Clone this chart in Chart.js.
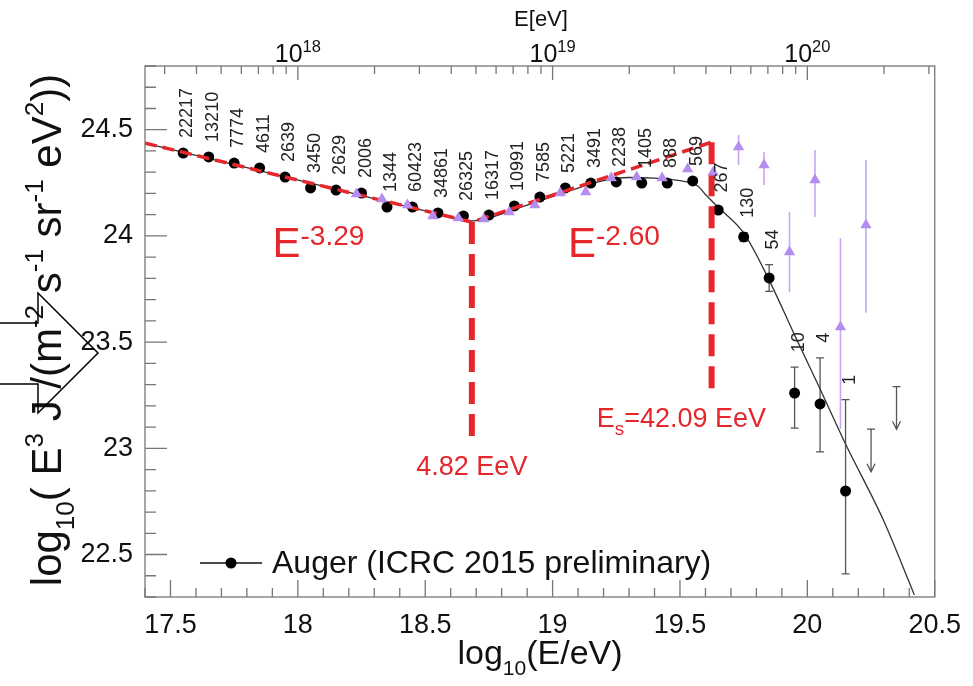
<!DOCTYPE html>
<html>
<head>
<meta charset="utf-8">
<title>UHECR spectrum</title>
<script src="https://cdn.jsdelivr.net/npm/chart.js@4.4.1/dist/chart.umd.min.js"></script>
<style>
  html, body { margin: 0; padding: 0; background: #fff; }
  #wrap { position: relative; width: 973px; height: 686px; }
  #arrow { position: absolute; left: 0; top: 0; pointer-events: none; }
</style>
</head>
<body>
<div id="wrap">
  <canvas id="spectrum" width="973" height="686"></canvas>
  <svg id="arrow" width="973" height="686">
    <polyline points="0,323 38,323 38,293 98,353 38,413 38,384 0,384" fill="none" stroke="#000" stroke-width="1.5"/>
  </svg>
</div>
<script>
// Auger SD spectrum: bin centres, log10(E^3 J) and event counts
const augerLogE = [17.55, 17.65, 17.75, 17.85, 17.95, 18.05, 18.15, 18.25, 18.35, 18.45,
  18.55, 18.65, 18.75, 18.85, 18.95, 19.05, 19.15, 19.25, 19.35, 19.45,
  19.55, 19.65, 19.75, 19.85, 19.95, 20.05, 20.15];
const augerFlux = [24.390, 24.372, 24.343, 24.320, 24.277, 24.226, 24.216, 24.202, 24.136, 24.136,
  24.108, 24.094, 24.098, 24.141, 24.183, 24.226, 24.249, 24.254, 24.249, 24.249,
  24.259, 24.122, 23.995, 23.802, 23.260, 23.209, 22.799];
const augerErrUp = [0, 0, 0, 0, 0, 0, 0, 0, 0, 0, 0, 0, 0, 0, 0, 0, 0, 0, 0, 0,
  0, 0.012, 0.02, 0.063, 0.122, 0.217, 0.43];
const augerErrLow = [0, 0, 0, 0, 0, 0, 0, 0, 0, 0, 0, 0, 0, 0, 0, 0, 0, 0, 0, 0,
  0, 0.012, 0.02, 0.063, 0.165, 0.226, 0.39];
const augerCounts = ['22217', '13210', '7774', '4611', '2639', '3450', '2629', '2006', '1344', '60423',
  '34861', '26325', '16317', '10991', '7585', '5221', '3491', '2238', '1405', '888',
  '569', '267', '130', '54', '10', '4', '1'];

// Auger upper limits (no events)
const limitLogE = [20.25, 20.35];
const limitFlux = [23.09, 23.29];
const limitDrop = 0.2;

// Telescope Array points
const taLogE = [18.23, 18.33, 18.43, 18.53, 18.63, 18.73, 18.83, 18.93, 19.03, 19.13,
  19.23, 19.33, 19.43, 19.53, 19.63, 19.73, 19.83, 19.93, 20.03, 20.13, 20.23];
const taFlux = [24.197, 24.174, 24.146, 24.094, 24.084, 24.080, 24.113, 24.146, 24.202, 24.207,
  24.273, 24.277, 24.273, 24.315, 24.300, 24.419, 24.334, 23.924, 24.263, 23.571, 24.051];
const taErrUp = [0, 0, 0, 0, 0, 0, 0, 0, 0, 0, 0, 0, 0, 0, 0,
  0.056, 0.061, 0.188, 0.141, 0.419, 0.307];
const taErrLow = [0, 0, 0, 0, 0, 0, 0, 0, 0, 0, 0, 0, 0, 0, 0,
  0.085, 0.094, 0.188, 0.174, 0.48, 0.413];

// Auger fit function
const fitLogE = [17.40, 17.80, 18.20, 18.50, 18.62, 18.68, 18.75, 18.90, 19.05, 19.20,
  19.30, 19.40, 19.50, 19.57, 19.60, 19.65, 19.75, 19.85, 19.95, 20.05,
  20.15, 20.30, 20.42];
const fitFlux = [24.437, 24.321, 24.205, 24.118, 24.082, 24.070, 24.085, 24.145, 24.205, 24.260,
  24.275, 24.272, 24.260, 24.235, 24.195, 24.135, 24.014, 23.792, 23.533, 23.279,
  23.020, 22.658, 22.310];

// Broken power law: ankle and suppression energies (EeV), spectral indices
const ankleEeV = 4.82;
const suppressionEeV = 42.09;
const gammaBelow = 3.29;
const gammaAbove = 2.60;
const ankleFlux = 24.065;
const markerBottom = [23.04, 23.24];   // lower ends of the dashed markers

// Axes
const xMin = 17.4, xMax = 20.5, yMin = 22.3, yMax = 24.8;
const xTickValues = [17.5, 18, 18.5, 19, 19.5, 20, 20.5];
const xTickLabels = ['17.5', '18', '18.5', '19', '19.5', '20', '20.5'];
const yTickValues = [22.5, 23, 23.5, 24, 24.5];
const yTickLabels = ['22.5', '23', '23.5', '24', '24.5'];
const topDecades = [18, 19, 20];
const topDecadeLabels = ['18', '19', '20'];

const FONT = '"Liberation Sans", Arial, Helvetica, sans-serif';
const RED = '#e5262b';
const TA_COLOR = '#b58cf0';
const TA_BAR = '#c7a6f3';

const xAnkle = 18 + Math.log10(ankleEeV);
const xSupp = 18 + Math.log10(suppressionEeV);
const brokenLaw = [
  { x: xMin, y: ankleFlux + (3 - gammaBelow) * (xMin - xAnkle) },
  { x: xAnkle, y: ankleFlux },
  { x: xSupp, y: ankleFlux + (3 - gammaAbove) * (xSupp - xAnkle) }
];

function pairs(xs, ys) {
  return xs.map((v, i) => ({ x: v, y: ys[i] }));
}

// text with super/subscripts; parts are [text, shift] with shift 1 = sup, -1 = sub
function richText(ctx, parts, x, y, o) {
  const size = o.size;
  const small = size * (o.scale || 0.62);
  const widths = parts.map(([t, s]) => {
    ctx.font = (s ? small : size) + 'px ' + FONT;
    return ctx.measureText(t).width;
  });
  const total = widths.reduce((a, b) => a + b, 0);
  let cx = o.align === 'center' ? x - total / 2 : x;
  ctx.fillStyle = o.color || '#111';
  ctx.textAlign = 'left';
  ctx.textBaseline = 'alphabetic';
  parts.forEach(([t, s], i) => {
    ctx.font = (s ? small : size) + 'px ' + FONT;
    const dy = s > 0 ? -size * (o.up || 0.4) : s < 0 ? size * (o.down || 0.25) : 0;
    ctx.fillText(t, cx, y + dy);
    cx += widths[i];
  });
}

// error bars and upper-limit arrows, under the markers
const errorBars = {
  id: 'errorBars',
  beforeDatasetsDraw(chart) {
    const { ctx, scales: { x, y } } = chart;
    ctx.save();
    ctx.strokeStyle = TA_BAR;
    ctx.lineWidth = 1.6;
    taLogE.forEach((e, i) => {
      if (!taErrUp[i] && !taErrLow[i]) return;
      const px = x.getPixelForValue(e);
      ctx.beginPath();
      ctx.moveTo(px, y.getPixelForValue(taFlux[i] + taErrUp[i]));
      ctx.lineTo(px, y.getPixelForValue(taFlux[i] - taErrLow[i]));
      ctx.stroke();
    });

    ctx.strokeStyle = '#555';
    ctx.lineWidth = 1.3;
    augerLogE.forEach((e, i) => {
      if (!augerErrUp[i] && !augerErrLow[i]) return;
      const px = x.getPixelForValue(e);
      const top = y.getPixelForValue(augerFlux[i] + augerErrUp[i]);
      const bot = y.getPixelForValue(augerFlux[i] - augerErrLow[i]);
      ctx.beginPath();
      ctx.moveTo(px, top); ctx.lineTo(px, bot);
      ctx.moveTo(px - 4, top); ctx.lineTo(px + 4, top);
      ctx.moveTo(px - 4, bot); ctx.lineTo(px + 4, bot);
      ctx.stroke();
    });

    limitLogE.forEach((e, i) => {
      const px = x.getPixelForValue(e);
      const top = y.getPixelForValue(limitFlux[i]);
      const tip = y.getPixelForValue(limitFlux[i] - limitDrop);
      ctx.beginPath();
      ctx.moveTo(px - 4, top); ctx.lineTo(px + 4, top);
      ctx.moveTo(px, top); ctx.lineTo(px, tip);
      ctx.moveTo(px - 4, tip - 8); ctx.lineTo(px, tip); ctx.lineTo(px + 4, tip - 8);
      ctx.stroke();
    });
    ctx.restore();
  }
};

// event counts and the fit annotations
const annotations = {
  id: 'annotations',
  afterDatasetsDraw(chart) {
    const { ctx, scales: { x, y } } = chart;
    ctx.save();
    ctx.fillStyle = '#222';
    ctx.font = '18px ' + FONT;
    ctx.textAlign = 'left';
    ctx.textBaseline = 'middle';
    augerLogE.forEach((e, i) => {
      const px = x.getPixelForValue(e) + 4;
      const py = y.getPixelForValue(augerFlux[i] + augerErrUp[i]) - 15;
      ctx.save();
      ctx.translate(px, py);
      ctx.rotate(-Math.PI / 2);
      ctx.fillText(augerCounts[i], 0, 0);
      ctx.restore();
    });

    richText(ctx, [['E', 0], ['-3.29', 1]], x.getPixelForValue(17.9), y.getPixelForValue(23.90),
      { size: 42, scale: 0.67, up: 0.3, color: RED });
    richText(ctx, [['E', 0], ['-2.60', 1]], x.getPixelForValue(19.06), y.getPixelForValue(23.90),
      { size: 42, scale: 0.67, up: 0.3, color: RED });
    richText(ctx, [[ankleEeV.toFixed(2) + ' EeV', 0]], x.getPixelForValue(xAnkle), y.getPixelForValue(22.874),
      { size: 27, align: 'center', color: RED });
    richText(ctx, [['E', 0], ['s', -1], ['=' + suppressionEeV.toFixed(2) + ' EeV', 0]],
      x.getPixelForValue(19.173), y.getPixelForValue(23.10),
      { size: 27, scale: 0.7, down: 0.3, color: RED });
    ctx.restore();
  }
};

// ROOT-style frame with inward ticks, top energy axis, titles and legend
const frame = {
  id: 'frame',
  afterDraw(chart) {
    const { ctx, chartArea: a, scales: { x, y } } = chart;
    ctx.save();
    ctx.strokeStyle = '#777';
    ctx.lineWidth = 1.3;
    ctx.strokeRect(a.left, a.top, a.right - a.left, a.bottom - a.top);

    ctx.beginPath();
    for (let i = 0; i <= 31; i++) {
      const v = xMin + i * 0.1;
      const major = Math.abs(v * 2 - Math.round(v * 2)) < 1e-6;
      const px = x.getPixelForValue(v);
      ctx.moveTo(px, a.bottom);
      ctx.lineTo(px, a.bottom - (major ? 17 : 9));
    }
    for (let i = 0; i <= 25; i++) {
      const v = yMin + i * 0.1;
      const major = Math.abs(v * 2 - Math.round(v * 2)) < 1e-6;
      const py = y.getPixelForValue(v);
      ctx.moveTo(a.left, py);
      ctx.lineTo(a.left + (major ? 22 : 11), py);
    }
    [17, 18, 19, 20].forEach(d => {
      for (let k = 1; k <= 9; k++) {
        const v = d + Math.log10(k);
        if (v < xMin || v > xMax) continue;
        const px = x.getPixelForValue(v);
        ctx.moveTo(px, a.top);
        ctx.lineTo(px, a.top + (k === 1 ? 14 : 8));
      }
    });
    ctx.stroke();

    topDecades.forEach((d, i) => {
      richText(ctx, [['10', 0], [topDecadeLabels[i], 1]], x.getPixelForValue(d), 62,
        { size: 25, scale: 0.66, up: 0.42, align: 'center', color: '#111' });
    });
    richText(ctx, [['E[eV]', 0]], 541, 26, { size: 22, align: 'center', color: '#111' });

    richText(ctx, [['log', 0], ['10', -1], ['(E/eV)', 0]], 540, 664,
      { size: 34, scale: 0.62, down: 0.33, align: 'center', color: '#111' });

    ctx.save();
    ctx.translate(61, 330);
    ctx.rotate(-Math.PI / 2);
    richText(ctx, [['log', 0], ['10', -1], ['( E', 0], ['3', 1], [' J /(m', 0], ['-2', 1], [' s', 0],
      ['-1', 1], [' sr', 0], ['-1', 1], [' eV', 0], ['2', 1], ['))', 0]], 0, 0,
      { size: 42, scale: 0.62, up: 0.42, down: 0.3, align: 'center', color: '#111' });
    ctx.restore();

    // legend
    ctx.strokeStyle = '#111';
    ctx.lineWidth = 1.3;
    ctx.beginPath();
    ctx.moveTo(200, 563); ctx.lineTo(262, 563);
    ctx.stroke();
    ctx.fillStyle = '#000';
    ctx.beginPath();
    ctx.arc(231, 563, 5.5, 0, Math.PI * 2);
    ctx.fill();
    ctx.font = '32px ' + FONT;
    ctx.textBaseline = 'middle';
    ctx.textAlign = 'left';
    ctx.fillStyle = '#111';
    ctx.fillText('Auger (ICRC 2015 preliminary)', 272, 564);
    ctx.restore();
  }
};

new Chart(document.getElementById('spectrum'), {
  type: 'scatter',
  data: {
    datasets: [
      {
        label: 'TA',
        data: pairs(taLogE, taFlux),
        pointStyle: 'triangle',
        pointRadius: 6.5,
        backgroundColor: TA_COLOR,
        borderColor: TA_COLOR,
        borderWidth: 0,
        order: 0
      },
      {
        label: 'broken power law',
        data: brokenLaw,
        showLine: true,
        borderColor: RED,
        borderWidth: 3.5,
        borderDash: [12, 6],
        pointRadius: 0,
        order: 1
      },
      {
        label: 'ankle',
        data: [{ x: xAnkle, y: ankleFlux }, { x: xAnkle, y: markerBottom[0] }],
        showLine: true,
        borderColor: RED,
        borderWidth: 6,
        borderDash: [22, 10],
        pointRadius: 0,
        order: 1
      },
      {
        label: 'suppression',
        data: [{ x: xSupp, y: brokenLaw[2].y }, { x: xSupp, y: markerBottom[1] }],
        showLine: true,
        borderColor: RED,
        borderWidth: 6,
        borderDash: [22, 10],
        pointRadius: 0,
        order: 1
      },
      {
        label: 'Auger (ICRC 2015 preliminary)',
        data: pairs(augerLogE, augerFlux),
        pointRadius: 5.5,
        backgroundColor: '#000',
        borderColor: '#000',
        borderWidth: 0,
        order: 2
      },
      {
        label: 'fit',
        data: pairs(fitLogE, fitFlux),
        showLine: true,
        cubicInterpolationMode: 'monotone',
        borderColor: '#333',
        borderWidth: 1.3,
        pointRadius: 0,
        order: 3
      }
    ]
  },
  options: {
    responsive: false,
    animation: false,
    events: [],
    layout: { padding: { top: 66, right: 38, left: 0, bottom: 0 } },
    plugins: { legend: { display: false }, tooltip: { enabled: false } },
    scales: {
      x: {
        type: 'linear',
        min: xMin,
        max: xMax,
        grid: { display: false, drawTicks: false },
        border: { display: false },
        afterBuildTicks: s => { s.ticks = xTickValues.map(v => ({ value: v })); },
        afterFit: s => { s.height = 89; },
        ticks: {
          autoSkip: false,
          maxRotation: 0,
          padding: 12,
          color: '#111',
          font: { family: FONT, size: 27 },
          callback: (v, i) => xTickLabels[i]
        }
      },
      y: {
        type: 'linear',
        min: yMin,
        max: yMax,
        grid: { display: false, drawTicks: false },
        border: { display: false },
        afterBuildTicks: s => { s.ticks = yTickValues.map(v => ({ value: v })); },
        afterFit: s => { s.width = 145; },
        ticks: {
          autoSkip: false,
          padding: 12,
          color: '#111',
          font: { family: FONT, size: 27 },
          callback: (v, i) => yTickLabels[i]
        }
      }
    }
  },
  plugins: [errorBars, annotations, frame]
});
</script>
</body>
</html>
